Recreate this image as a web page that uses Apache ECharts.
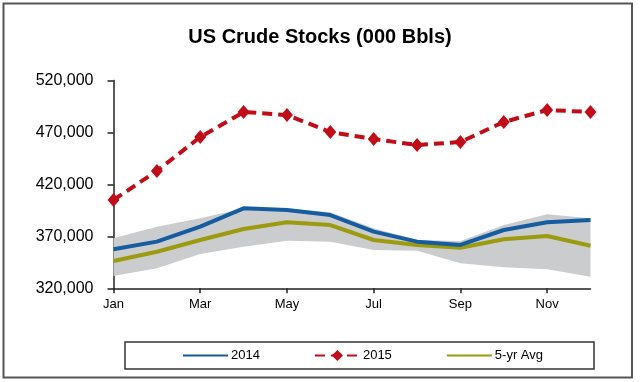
<!DOCTYPE html>
<html>
<head>
<meta charset="utf-8">
<script src="https://cdn.jsdelivr.net/npm/echarts@6/dist/echarts.min.js"></script>
<style>
html,body{margin:0;padding:0;background:#fff;}
#chart{width:640px;height:382px;}
</style>
</head>
<body>
<div id="chart"></div>
<script>
var months = ['Jan','Feb','Mar','Apr','May','Jun','Jul','Aug','Sep','Oct','Nov','Dec'];
var yTicks = [320000, 370000, 420000, 470000, 520000];
var s2014 = [357500, 364900, 379300, 397000, 395400, 390500, 374500, 364900, 361700, 376100, 383500, 385700];
var s2015 = [405000, 432900, 465600, 489700, 486800, 470400, 463700, 457900, 460800, 480100, 491600, 489700];
var avg5 = [346300, 355200, 366500, 377100, 383500, 380900, 366500, 361700, 359100, 367200, 370300, 361000];
var rangeHigh = [368100, 379300, 387400, 397000, 397000, 393200, 377800, 366500, 365500, 380900, 391200, 387400];
var rangeLow = [331800, 339300, 353000, 360000, 365800, 364900, 356900, 356200, 344100, 340200, 338300, 331200];

var rangeSpan = rangeHigh.map(function (v, i) { return v - rangeLow[i]; });
var FONT = 'Liberation Sans, Arial, sans-serif';

var chart = echarts.init(document.getElementById('chart'), null, {renderer: 'canvas'});
chart.setOption({
  animation: false,
  backgroundColor: '#fff',
  textStyle: {fontFamily: FONT},
  title: {
    text: 'US Crude Stocks (000 Bbls)',
    left: 'center',
    top: 22,
    textStyle: {fontFamily: FONT, fontSize: 20, fontWeight: 'bold', color: '#000'}
  },
  graphic: [{
    type: 'rect',
    shape: {x: 3.5, y: 3.5, width: 628.5, height: 374},
    style: {fill: 'none', stroke: '#555', lineWidth: 2},
    silent: true,
    z: -1
  }],
  legend: {
    left: 125,
    top: 342,
    padding: [7, 51, 7, 57],
    borderColor: '#333',
    borderWidth: 1.5,
    itemWidth: 45,
    itemHeight: 14,
    itemGap: 54,
    textStyle: {fontFamily: FONT, fontSize: 13, color: '#000', padding: [0, 0, 0, -2]},
    data: [
      {name: '2014', itemStyle: {opacity: 0}},
      {name: '2015'},
      {name: '5-yr Avg', itemStyle: {opacity: 0}}
    ]
  },
  grid: {left: 113.5, right: 49.5, top: 80.5, bottom: 93.7},
  xAxis: {
    type: 'category',
    boundaryGap: false,
    data: months,
    axisLine: {lineStyle: {color: '#222', width: 1.5}},
    axisTick: {show: true, interval: 1, length: 5, lineStyle: {color: '#222', width: 1.5}},
    axisLabel: {interval: 1, margin: 10, fontFamily: FONT, fontSize: 13, color: '#000'},
    splitLine: {show: false}
  },
  yAxis: {
    type: 'value',
    min: yTicks[0],
    max: yTicks[yTicks.length - 1],
    interval: yTicks[1] - yTicks[0],
    axisLine: {show: true, lineStyle: {color: '#222', width: 1.5}},
    axisTick: {show: true, length: 6, lineStyle: {color: '#222', width: 1.5}},
    axisLabel: {
      margin: 20,
      fontFamily: FONT,
      fontSize: 16,
      color: '#000',
      formatter: function (v) { return v.toLocaleString('en-US'); }
    },
    splitLine: {show: false}
  },
  series: [
    {
      name: 'rangeLow',
      type: 'line',
      stack: 'band',
      data: rangeLow,
      symbol: 'none',
      lineStyle: {opacity: 0},
      silent: true,
      z: 1
    },
    {
      name: 'range',
      type: 'line',
      stack: 'band',
      data: rangeSpan,
      symbol: 'none',
      lineStyle: {opacity: 0},
      areaStyle: {color: '#cbccce', opacity: 1},
      silent: true,
      z: 1
    },
    {
      name: '5-yr Avg',
      type: 'line',
      data: avg5,
      symbol: 'none',
      color: '#9c9a0e',
      lineStyle: {color: '#9c9a0e', width: 4},
      z: 3
    },
    {
      name: '2014',
      type: 'line',
      data: s2014,
      symbol: 'none',
      color: '#155ca0',
      lineStyle: {color: '#155ca0', width: 4},
      z: 4
    },
    {
      name: '2015',
      type: 'line',
      data: s2015,
      symbol: 'diamond',
      symbolSize: [12, 14],
      showAllSymbol: true,
      color: '#c00d18',
      itemStyle: {color: '#c00d18'},
      lineStyle: {color: '#c00d18', width: 4, type: [10, 6]},
      z: 5
    }
  ]
});
</script>
</body>
</html>
